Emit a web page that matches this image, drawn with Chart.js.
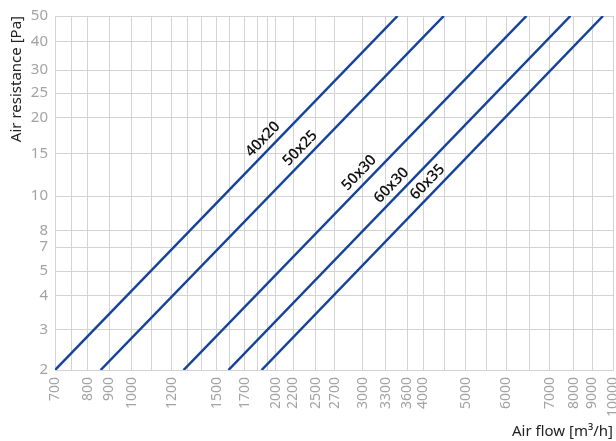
<!DOCTYPE html>
<html>
<head>
<meta charset="utf-8">
<title>Air resistance chart</title>
<script src="https://cdn.jsdelivr.net/npm/chart.js@4/dist/chart.umd.min.js"></script>
<style>
  html, body { margin: 0; padding: 0; background: #ffffff; }
  #wrap { width: 616px; height: 441px; }
</style>
</head>
<body>
<div id="wrap"><canvas id="airChart" width="616" height="441"></canvas></div>
<script>
// Duct sizes, each one a straight line on the log-log grid
const seriesNames = ['40x20', '50x25', '50x30', '60x30', '60x35'];
const pressureRange = [2, 50];
const flowAtLowPressure = [700, 870, 1292, 1600, 1874];
const flowAtHighPressure = [3581, 4465, 6621, 8163, 9535];
// pressure (Pa) on each line where its name sits
const labelPressure = [15.2, 14.0, 11.2, 10.0, 10.3];

// Grid lines as drawn in the picture, with the text printed under them
const xGridValues = [700, 758, 818, 906, 1009, 1110, 1220, 1317, 1404, 1512, 1611, 1730, 1838, 1924, 2003,
  2178, 2427, 2657, 3031, 3387, 3755, 4045, 4487, 4958, 5472, 6020, 6726, 7398, 8294, 9066, 10000];
const xTickLabels = ['700', '', '800', '900', '1000', '', '1200', '', '', '1500', '', '1700', '', '', '2000',
  '2200', '2500', '2700', '3000', '3300', '3600', '4000', '', '5000', '', '6000', '', '7000', '8000', '9000', '10000'];
const yGridValues = [2, 2.88, 3.93, 4.92, 6.12, 7.08, 9.73, 14.26, 19.9, 24.8, 30.6, 39.5, 50];
const yTickLabels = ['2', '3', '4', '5', '7', '8', '10', '15', '20', '25', '30', '40', '50'];

const lineColor = '#16439a';
const gridColor = '#d3d3d3';
const tickColor = '#a3a3a3';
const fontFamily = '"Noto Sans", "Open Sans", sans-serif';

// Names written along the lines, just above them
const lineNamePlugin = {
  id: 'lineNames',
  afterDatasetsDraw(chart) {
    const ctx = chart.ctx;
    const xs = chart.scales.x;
    const ys = chart.scales.y;
    ctx.save();
    ctx.font = '600 15px "Open Sans", sans-serif';
    ctx.fillStyle = '#111111';
    ctx.textAlign = 'center';
    ctx.textBaseline = 'middle';
    seriesNames.forEach((name, i) => {
      const x0 = xs.getPixelForValue(flowAtLowPressure[i]);
      const y0 = ys.getPixelForValue(pressureRange[0]);
      const x1 = xs.getPixelForValue(flowAtHighPressure[i]);
      const y1 = ys.getPixelForValue(pressureRange[1]);
      const angle = Math.atan2(y1 - y0, x1 - x0);
      const py = ys.getPixelForValue(labelPressure[i]);
      const px = x0 + (py - y0) * (x1 - x0) / (y1 - y0);
      const off = 11;
      const nx = Math.sin(angle);   // normal pointing up-left
      const ny = -Math.cos(angle);
      ctx.save();
      ctx.translate(px + nx * off, py + ny * off);
      ctx.rotate(angle);
      ctx.fillText(name, 0, 0);
      ctx.restore();
    });
    ctx.restore();
  }
};

const datasets = seriesNames.map((name, i) => ({
  label: name,
  data: [
    { x: flowAtLowPressure[i], y: pressureRange[0] },
    { x: flowAtHighPressure[i], y: pressureRange[1] }
  ],
  borderColor: lineColor,
  backgroundColor: lineColor,
  borderWidth: 2.5,
  pointRadius: 0,
  tension: 0,
  fill: false
}));

const ctx = document.getElementById('airChart').getContext('2d');
new Chart(ctx, {
  type: 'line',
  data: { datasets: datasets },
  options: {
    responsive: false,
    animation: false,
    layout: { padding: { top: 16, right: 3, bottom: 0, left: 0 } },
    plugins: {
      legend: { display: false },
      tooltip: { enabled: false }
    },
    scales: {
      x: {
        type: 'logarithmic',
        min: 700,
        max: 10000,
        afterBuildTicks: scale => {
          scale.ticks = xGridValues.map(v => ({ value: v }));
        },
        afterFit: scale => {
          scale.height = 71;
          scale.paddingLeft = 0;
          scale.paddingRight = 0;
        },
        grid: { color: gridColor, lineWidth: 1, drawTicks: false },
        border: { color: gridColor },
        ticks: {
          autoSkip: false,
          minRotation: 90,
          maxRotation: 90,
          padding: 7,
          color: tickColor,
          font: { family: fontFamily, size: 14 },
          callback: (value, index) => xTickLabels[index]
        },
        title: {
          display: true,
          text: 'Air flow [m³/h]',
          align: 'end',
          color: '#222222',
          padding: 0,
          font: { family: fontFamily, size: 15 }
        }
      },
      y: {
        type: 'logarithmic',
        min: pressureRange[0],
        max: pressureRange[1],
        afterBuildTicks: scale => {
          scale.ticks = yGridValues.map(v => ({ value: v }));
        },
        afterFit: scale => {
          scale.width = 55;
          scale.paddingTop = 0;
          scale.paddingBottom = 0;
        },
        grid: { color: gridColor, lineWidth: 1, drawTicks: false },
        border: { color: gridColor },
        ticks: {
          autoSkip: false,
          padding: 7,
          color: tickColor,
          font: { family: fontFamily, size: 15 },
          callback: (value, index) => yTickLabels[index]
        },
        title: {
          display: true,
          text: 'Air resistance [Pa]',
          align: 'end',
          color: '#222222',
          padding: { top: 8, bottom: 0 },
          font: { family: fontFamily, size: 15 }
        }
      }
    }
  },
  plugins: [lineNamePlugin]
});
</script>
</body>
</html>
